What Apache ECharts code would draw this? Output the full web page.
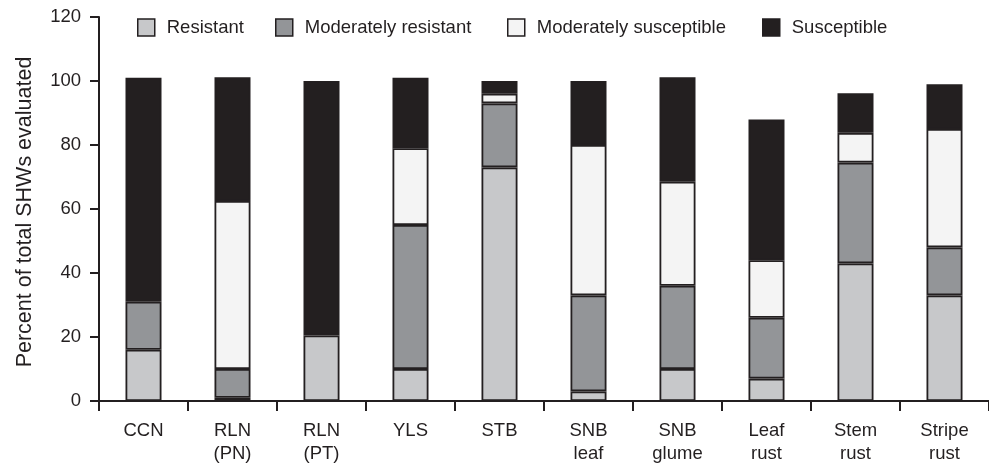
<!DOCTYPE html>
<html>
<head>
<meta charset="utf-8">
<script src="https://cdn.jsdelivr.net/npm/echarts@6/dist/echarts.min.js"></script>
<style>html,body{margin:0;padding:0;background:#fff}#c{width:989px;height:465px}</style>
</head>
<body>
<div id="c"></div>
<script>
const categories = ['CCN', 'RLN\n(PN)', 'RLN\n(PT)', 'YLS', 'STB', 'SNB\nleaf', 'SNB\nglume', 'Leaf\nrust', 'Stem\nrust', 'Stripe\nrust'];
const resistant = [16, 1, 20.5, 10, 73, 3, 10, 7, 43, 33];
const moderatelyResistant = [15, 9, 0, 45, 20, 30, 26, 19, 31.5, 15];
const moderatelySusceptible = [0, 52.5, 0, 24, 3, 47, 32.5, 18, 9.3, 37];
const susceptible = [70, 38.7, 79.5, 22, 4, 20, 32.7, 44, 12.4, 14];
const yTicks = [0, 20, 40, 60, 80, 100, 120];

const seriesNames = ['Resistant', 'Moderately resistant', 'Moderately susceptible', 'Susceptible'];
const seriesData = [resistant, moderatelyResistant, moderatelySusceptible, susceptible];
const colors = ['#c7c8ca', '#939598', '#f4f4f4', '#231f20'];
const legendLeft = [132, 270, 502, 757];
const ink = '#231f20';
const font = 'Liberation Sans, Arial, Helvetica, sans-serif';

const chart = echarts.init(document.getElementById('c'), null, {renderer: 'canvas'});
chart.setOption({
  animation: false,
  backgroundColor: '#ffffff',
  legend: seriesNames.map((n, i) => ({
    data: [n],
    left: legendLeft[i],
    top: 13,
    itemWidth: 17,
    itemHeight: 17,
    icon: 'rect',
    itemStyle: {borderColor: ink, borderWidth: 1.5},
    textStyle: {fontFamily: font, fontSize: 18.5, color: ink, padding: [0, 0, 0, 7]},
    selectedMode: false
  })),
  grid: {left: 99, top: 17, width: 899, height: 385},
  xAxis: {
    type: 'category',
    data: categories,
    axisLine: {lineStyle: {color: ink, width: 2}},
    axisTick: {show: true, length: 10, lineStyle: {color: ink, width: 2}, alignWithLabel: false},
    axisLabel: {fontFamily: font, fontSize: 18.5, color: ink, margin: 18, lineHeight: 23, interval: 0}
  },
  yAxis: {
    type: 'value',
    min: yTicks[0],
    max: yTicks[yTicks.length - 1],
    interval: 20,
    name: 'Percent of total SHWs evaluated',
    nameLocation: 'middle',
    nameRotate: 90,
    nameGap: 63,
    nameTextStyle: {fontFamily: font, fontSize: 21.5, color: ink, padding: [0, 0, 0, -6]},
    axisLine: {show: true, lineStyle: {color: ink, width: 2}},
    axisTick: {show: true, length: 9, lineStyle: {color: ink, width: 2}},
    axisLabel: {fontFamily: font, fontSize: 18.5, color: ink, margin: 18},
    splitLine: {show: false}
  },
  series: seriesNames.map((n, i) => ({
    name: n,
    type: 'bar',
    stack: 'total',
    barWidth: 36,
    data: seriesData[i].map(v => v === 0 ? '-' : v),
    itemStyle: {color: colors[i], borderColor: ink, borderWidth: 1.8}
  }))
});
</script>
</body>
</html>
